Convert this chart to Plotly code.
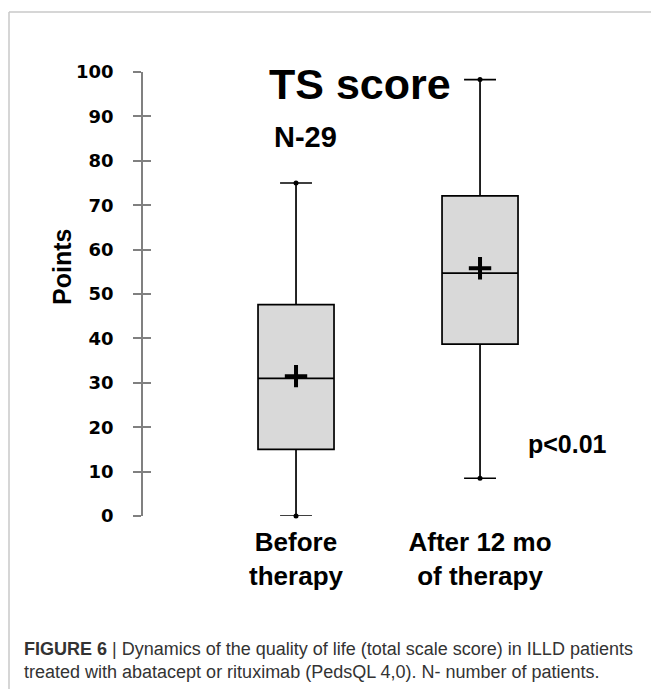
import plotly.graph_objects as go

# ---- data ----
groups = ["Before<br>therapy", "After 12 mo<br>of therapy"]
positions = [0, 1]
q1_vals = [15.0, 38.7]
median_vals = [31.0, 54.7]
q3_vals = [47.6, 72.1]
lower_vals = [0.0, 8.5]
upper_vals = [75.0, 98.3]
mean_vals = [31.5, 55.8]
y_ticks = [0, 10, 20, 30, 40, 50, 60, 70, 80, 90, 100]

W, H = 651, 689
ML, MR, MT, MB = 143, 51, 72, 173
PW = W - ML - MR
PH = H - MT - MB


def px_x(p):
    return (p - ML) / PW


def px_y(p):
    return (H - MB - p) / PH


fig = go.Figure()

fig.add_trace(go.Box(
    x=positions,
    q1=q1_vals,
    median=median_vals,
    q3=q3_vals,
    lowerfence=lower_vals,
    upperfence=upper_vals,
    width=0.413,
    whiskerwidth=0.42,
    fillcolor="#d9d9d9",
    line=dict(color="black", width=1.7),
    boxpoints=False,
    hoverinfo="skip",
    showlegend=False,
))

# whisker end dots
fig.add_trace(go.Scatter(
    x=positions + positions,
    y=upper_vals + lower_vals,
    mode="markers",
    marker=dict(color="black", size=5),
    showlegend=False, hoverinfo="skip", cliponaxis=False,
))

# mean markers
fig.add_trace(go.Scatter(
    x=positions,
    y=mean_vals,
    mode="markers",
    marker=dict(symbol="cross-thin", size=16, line=dict(color="black", width=4)),
    showlegend=False, hoverinfo="skip", cliponaxis=False,
))

fig.update_layout(
    width=W, height=H,
    margin=dict(l=ML, r=MR, t=MT, b=MB),
    paper_bgcolor="white",
    plot_bgcolor="white",
    xaxis=dict(
        range=[-0.8316, 1.652],
        tickvals=positions,
        ticktext=groups,
        showline=False, showgrid=False, zeroline=False, ticks="",
        tickfont=dict(family="Liberation Sans, Arial", size=26, color="black", weight="bold"),
        ticklabelstandoff=8,
    ),
    yaxis=dict(
        range=[0, 100],
        tickvals=y_ticks,
        showline=True, linecolor="#808080", linewidth=1.5,
        ticks="outside", ticklen=8, tickcolor="#808080", tickwidth=1.5,
        showgrid=False, zeroline=False,
        tickfont=dict(family="DejaVu Sans", size=18, color="black", weight="bold"),
        ticklabelstandoff=16,
    ),
    yaxis2=dict(
        range=[0, 100],
        overlaying="y",
        tickvals=y_ticks,
        ticks="inside", ticklen=8, tickcolor="#808080", tickwidth=1.5,
        showticklabels=False, showgrid=False, zeroline=False, showline=False,
    ),
)

# dummy trace to activate yaxis2
fig.add_trace(go.Scatter(x=[0], y=[0], yaxis="y2", mode="markers",
                         marker=dict(opacity=0), showlegend=False, hoverinfo="skip"))

ann_font = dict(family="Liberation Sans, Arial", color="black", weight="bold")
fig.add_annotation(text="TS score", x=px_x(359.5), y=px_y(84), xref="paper", yref="paper",
                   showarrow=False, xanchor="center", yanchor="middle",
                   font=dict(size=43, **ann_font))
fig.add_annotation(text="N-29", x=px_x(305.5), y=px_y(136.5), xref="paper", yref="paper",
                   showarrow=False, xanchor="center", yanchor="middle",
                   font=dict(size=29, **ann_font))
fig.add_annotation(text="p<0.01", x=px_x(567), y=px_y(444), xref="paper", yref="paper",
                   showarrow=False, xanchor="center", yanchor="middle",
                   font=dict(size=25, **ann_font))
fig.add_annotation(text="Points", x=px_x(62), y=px_y(267), xref="paper", yref="paper",
                   showarrow=False, xanchor="center", yanchor="middle", textangle=-90,
                   font=dict(size=25, **ann_font))

cap_font = dict(family="Liberation Sans, Arial", size=18, color="#333333")
fig.add_annotation(text="<b>FIGURE 6</b> | Dynamics of the quality of life (total scale score) in ILLD patients",
                   x=px_x(22), y=px_y(649), xref="paper", yref="paper",
                   showarrow=False, xanchor="left", yanchor="middle", font=cap_font)
fig.add_annotation(text="treated with abatacept or rituximab (PedsQL 4,0). N- number of patients.",
                   x=px_x(22), y=px_y(672), xref="paper", yref="paper",
                   showarrow=False, xanchor="left", yanchor="middle", font=cap_font)

# figure frame (top and left border)
frame = dict(color="#c8c8c8", width=1.5)
fig.add_shape(type="line", xref="paper", yref="paper",
              x0=px_x(9), x1=px_x(W + 5), y0=px_y(12), y1=px_y(12), line=frame)
fig.add_shape(type="line", xref="paper", yref="paper",
              x0=px_x(9), x1=px_x(9), y0=px_y(12), y1=px_y(H + 5), line=frame)

fig.write_html("out.html",
               config={"displayModeBar": False},
               post_script="document.body.style.margin='0px';document.body.style.padding='0px';")
